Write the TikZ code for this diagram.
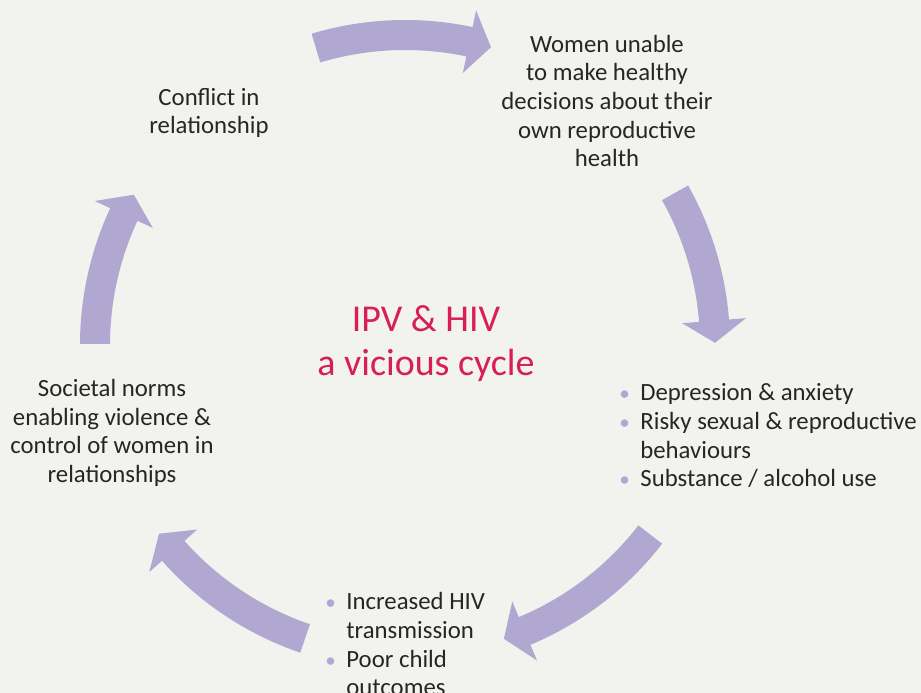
\documentclass[tikz,border=0pt]{standalone}
\usepackage{fontspec}
\setmainfont{Carlito}
\usetikzlibrary{calc}
\definecolor{cyclebg}{HTML}{F2F2EE}
\definecolor{cyclearrow}{HTML}{B0A8D0}
\definecolor{cycletitle}{HTML}{D81F52}
\definecolor{cycletext}{HTML}{262626}
\tikzset{stage/.style = {align = center, text = cycletext, inner sep = 0pt, font = \fontsize{14.1}{16.3}\selectfont}}
\tikzset{stagelist/.style = {anchor = west, text = cycletext, inner sep = 0pt, font = \fontsize{14.1}{16.3}\selectfont}}
\tikzset{cyclearr/.style = {fill = cyclearrow}}
\newcommand\stagebullet{\textcolor{cyclearrow}{\fontsize{12}{12}\selectfont\textbullet}}

\begin{document}
\begin{tikzpicture}[x = 0.02cm, y = 0.02cm]
\fill[cyclebg] (0,0) rectangle (921,693);
\clip (0,0) rectangle (921,693);
\coordinate (O) at (405,348);
\foreach \a/\b in {106.7/73.9, 29.4/0.4, -37.7/-71.4, -108.8/-142.5, 179.8/151}{
  \pgfmathsetmacro\h{\b + 4.1}
  \fill[cyclearr] ($(O)+(\a:325)$) arc[start angle = \a, end angle = \h, radius = 325]
    -- ($(O)+(\h:342)$) -- ($(O)+(\b:310)$) -- ($(O)+(\h:278)$) -- ($(O)+(\h:295)$)
    arc[start angle = \h, end angle = \a, radius = 295] -- cycle;
}
\node[stage] (conflict) at (209,580) {Conflict in\\relationship};
\node[stage] (women) at (607,592) {Women unable\\to make healthy\\decisions about their\\own reproductive\\health};
\node[stage, text = cycletitle, font = \fontsize{21.6}{25}\selectfont] (title) at (426,349) {IPV \& HIV\\a vicious cycle};
\node[stagelist] (mental) at (619,255) {\begin{tabular}{@{}l@{\hspace{6pt}}l@{}}
\stagebullet & Depression \& anxiety\\
\stagebullet & Risky sexual \& reproductive\\
 & behaviours\\
\stagebullet & Substance / alcohol use
\end{tabular}};
\node[stagelist] (outcome) at (325,46) {\begin{tabular}{@{}l@{\hspace{6pt}}l@{}}
\stagebullet & Increased HIV\\
 & transmission\\
\stagebullet & Poor child\\
 & outcomes
\end{tabular}};
\node[stage] (norms) at (112,260) {Societal norms\\enabling violence \&\\control of women in\\relationships};
\end{tikzpicture}
\end{document}
